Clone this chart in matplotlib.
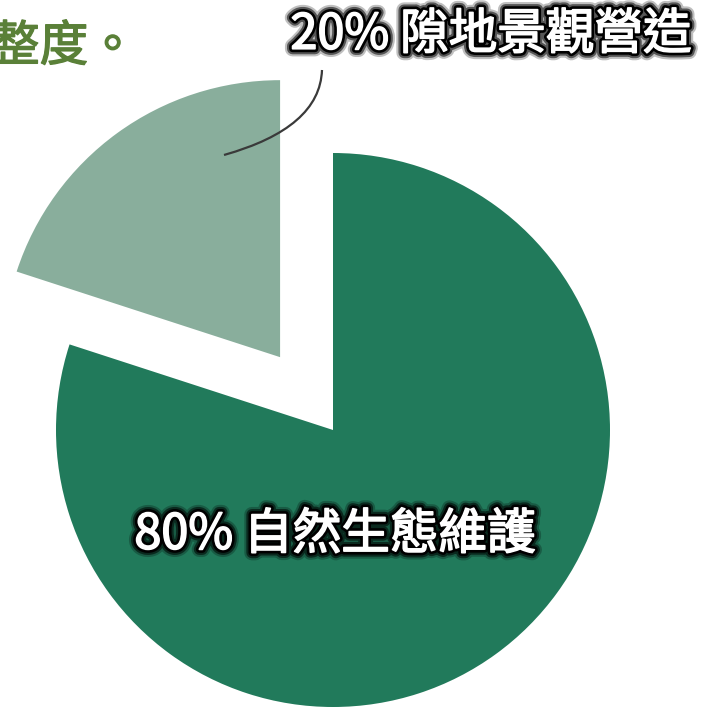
"""Exploded pie: 80% natural ecology upkeep vs 20% open-space landscaping."""

import matplotlib
matplotlib.use("Agg")
import matplotlib.pyplot as plt
import matplotlib.patheffects as pe
from matplotlib.path import Path
from matplotlib.patches import PathPatch

plt.rcParams["font.family"] = ["Noto Sans CJK TC", "DejaVu Sans"]

# --- data ---
labels = ["隙地景觀營造", "自然生態維護"]
values = [20, 80]
colors = ["#89ae9c", "#217a5b"]
explode = [0.325, 0]

W, H = 706, 707
cx, cy, r = 333, 430, 277   # pie centre / radius in pixels

fig = plt.figure(figsize=(W / 100, H / 100), dpi=100)
ax = fig.add_axes([0, 0, 1, 1])
ax.pie(values, colors=colors, explode=explode, startangle=90,
       counterclock=True, radius=1, wedgeprops=dict(linewidth=0))
ax.set_xlim(-cx / r, (W - cx) / r)
ax.set_ylim(-(H - cy) / r, cy / r)
ax.set_aspect("auto")
ax.axis("off")


def px(x, y):
    """pixel (from top-left) -> data coords"""
    return (x - cx) / r, (cy - y) / r


# glow-like black outline around white label text
glow = [
    pe.withStroke(linewidth=11, foreground="black", alpha=0.25),
    pe.withStroke(linewidth=8, foreground="black", alpha=0.55),
    pe.withStroke(linewidth=5, foreground="black"),
    pe.withStroke(linewidth=1.2, foreground="white"),
]

ax.text(*px(491, 35), f"{values[0]}% {labels[0]}", fontsize=35,
        color="white", ha="center", va="center", path_effects=glow)
ax.text(*px(335, 535), f"{values[1]}% {labels[1]}", fontsize=35,
        color="white", ha="center", va="center", path_effects=glow)

# leader line for the small slice
verts = [px(322, 70), px(320, 128), px(224, 155)]
leader = Path(verts, [Path.MOVETO, Path.CURVE3, Path.CURVE3])
ax.add_patch(PathPatch(leader, fill=False, edgecolor="#3a3a3a", linewidth=1.6))

# clipped heading from the page
fig.text(-9 / W, 1 - 47 / H, "整度。", fontsize=35, color="#5a8038",
         ha="left", va="center",
         path_effects=[pe.withStroke(linewidth=1, foreground="#5a8038")])

fig.savefig("out.png", dpi=100, facecolor="white")
